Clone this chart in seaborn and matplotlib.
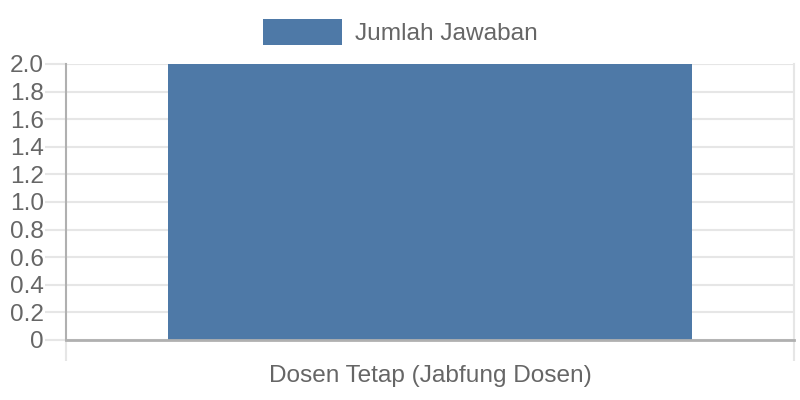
import matplotlib
matplotlib.use("Agg")
import matplotlib.pyplot as plt
import seaborn as sns
import pandas as pd
from matplotlib.ticker import FixedLocator, FuncFormatter

categories = ["Dosen Tetap (Jabfung Dosen)"]
values = [2]
series_name = "Jumlah Jawaban"

sns.set_theme(style="white")
plt.rcParams["font.family"] = ["Liberation Sans", "DejaVu Sans"]

TEXT = "#666666"
GRID = "#e6e6e6"
AXIS = "#b0b0b0"
BAR = "#4e79a7"
FS = 17.6

df = pd.DataFrame({"cat": categories, "val": values, "series": series_name})

fig = plt.figure(figsize=(8, 4), dpi=100)
ax = fig.add_axes([66 / 800, 60 / 400, 728 / 800, 276 / 400])

sns.barplot(data=df, x="cat", y="val", hue="series", palette=[BAR],
            width=0.72, ax=ax, saturation=1, legend=True, linewidth=0)

ax.set_xlim(-0.5, 0.5)
ax.set_ylim(0, 2.0)
yt = [i * 0.2 for i in range(11)]
ax.set_yticks(yt)
ax.yaxis.set_major_formatter(FuncFormatter(lambda v, p: "0" if abs(v) < 1e-9 else f"{v:.1f}"))
ax.grid(axis="y", color=GRID, linewidth=1.5)
ax.set_axisbelow(True)

ax.set_xlabel("")
ax.set_ylabel("")

ax.tick_params(axis="y", length=15, width=1.5, color=GRID, pad=1,
               labelsize=FS, labelcolor=TEXT, left=True)
ax.tick_params(axis="x", which="major", length=0, pad=18,
               labelsize=FS, labelcolor=TEXT)
ax.xaxis.set_minor_locator(FixedLocator([-0.5, 0.5]))
ax.tick_params(axis="x", which="minor", length=15, width=1.5, color=GRID, bottom=True)

ax.spines["top"].set_visible(False)
ax.spines["left"].set_color(AXIS)
ax.spines["left"].set_linewidth(1.5)
ax.spines["bottom"].set_color(AXIS)
ax.spines["bottom"].set_linewidth(2)
ax.spines["right"].set_color(GRID)
ax.spines["right"].set_linewidth(1.5)

leg = ax.legend(loc="center", bbox_to_anchor=(400 / 800, 1 - 32 / 400),
                bbox_transform=fig.transFigure, frameon=False,
                fontsize=FS, handlelength=3.27, handleheight=1.25,
                handletextpad=0.5, borderaxespad=0)
for t in leg.get_texts():
    t.set_color(TEXT)
for h in leg.legend_handles:
    h.set_linewidth(0)

fig.savefig("out.png", dpi=100)
